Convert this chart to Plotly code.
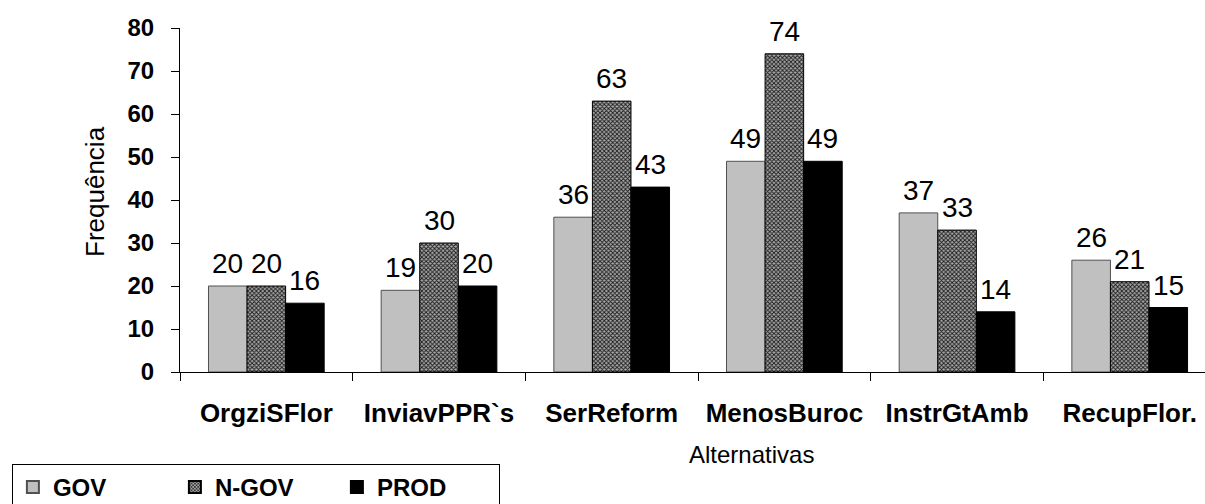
import plotly.graph_objects as go

# Frequência de respostas por alternativa e por grupo
categorias = ["OrgziSFlor", "InviavPPR`s", "SerReform", "MenosBuroc", "InstrGtAmb", "RecupFlor."]
gov = [20, 19, 36, 49, 37, 26]
ngov = [20, 30, 63, 74, 33, 21]
prod = [16, 20, 43, 49, 14, 15]
y_ticks = [0, 10, 20, 30, 40, 50, 60, 70, 80]

FONT = "Liberation Sans, Arial, sans-serif"
BAR_PX = 38.5  # largura de cada barra em pixels, usada para centrar os rótulos

series = [
    ("GOV", gov, dict(color="#C0C0C0", line=dict(color="#505050", width=1))),
    ("N-GOV", ngov, dict(color="#909090", line=dict(color="black", width=1),
                         pattern=dict(shape="x", fgcolor="#1A1A1A", bgcolor="#A8A8A8",
                                      size=3, solidity=0.5, fillmode="replace"))),
    ("PROD", prod, dict(color="black", line=dict(color="black", width=1))),
]

fig = go.Figure()
for i, (nome, valores, marker) in enumerate(series):
    fig.add_trace(go.Bar(name=nome, x=categorias, y=valores, marker=marker))
    # rótulos de valor acima de cada barra
    for cat, v in zip(categorias, valores):
        fig.add_annotation(
            x=cat, y=v, xref="x", yref="y", text=str(v),
            xshift=(i - 1) * BAR_PX, yshift=5,
            xanchor="center", yanchor="bottom", showarrow=False,
            font=dict(family=FONT, size=28, color="black"),
        )

fig.update_layout(
    width=1205, height=504,
    margin=dict(l=180, r=0, t=28, b=132, autoexpand=False),
    paper_bgcolor="white", plot_bgcolor="white",
    barmode="group", bargap=0.33, bargroupgap=0,
    font=dict(family=FONT, color="black"),
    showlegend=True,
    legend=dict(
        orientation="h",
        x=-0.164, xanchor="left",
        y=-0.267, yanchor="top",
        bgcolor="white", bordercolor="black", borderwidth=1,
        font=dict(family=FONT, size=24, color="black", weight="bold"),
        entrywidth=117, entrywidthmode="pixels",
        itemwidth=30, itemsizing="constant",
    ),
)

fig.update_xaxes(
    range=[-0.5, 5.436],
    showline=True, linecolor="black", linewidth=1,
    ticks="outside", tickson="boundaries", ticklen=8, tickcolor="black",
    tickfont=dict(family=FONT, size=26, color="black", weight="bold"),
    ticklabelstandoff=18,
    showgrid=False, zeroline=False,
)

fig.update_yaxes(
    range=[0, 80], tickvals=y_ticks,
    showline=True, linecolor="black", linewidth=1,
    ticks="outside", ticklen=8, tickcolor="black",
    tickfont=dict(family=FONT, size=24, color="black", weight="bold"),
    ticklabelstandoff=12,
    showgrid=False, zeroline=False,
)

fig.add_annotation(
    text="Frequência", xref="paper", yref="paper",
    x=-0.083, y=0.526, xanchor="center", yanchor="middle", textangle=-90,
    showarrow=False, font=dict(family=FONT, size=26, color="black"),
)

fig.add_annotation(
    text="Alternativas", xref="paper", yref="paper",
    x=0.558, y=-0.241, xanchor="center", yanchor="middle",
    showarrow=False, font=dict(family=FONT, size=24, color="black"),
)

fig.write_html("out.html")
